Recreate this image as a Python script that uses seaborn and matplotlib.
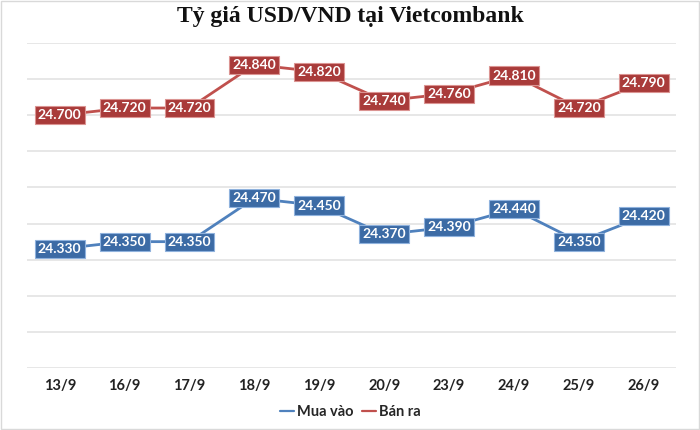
import matplotlib
matplotlib.use("Agg")
import matplotlib.pyplot as plt
import seaborn as sns
import pandas as pd

# ── data ──────────────────────────────────────────────────────────────────────
dates = ["13/9", "16/9", "17/9", "18/9", "19/9", "20/9", "23/9", "24/9", "25/9", "26/9"]
mua_vao = [24330, 24350, 24350, 24470, 24450, 24370, 24390, 24440, 24350, 24420]
ban_ra = [24700, 24720, 24720, 24840, 24820, 24740, 24760, 24810, 24720, 24790]
series_names = ["Mua vào", "Bán ra"]

line_colors = {"Mua vào": "#4F81BD", "Bán ra": "#C0504D"}
box_colors = {"Mua vào": "#3C6BA5", "Bán ra": "#A93B3A"}
box_edges = {"Mua vào": "#8FB2DD", "Bán ra": "#DB9492"}

df = pd.DataFrame({
    "pos": list(range(len(dates))) * 2,
    "date": dates * 2,
    "value": mua_vao + ban_ra,
    "series": [series_names[0]] * len(dates) + [series_names[1]] * len(dates),
})

sns.set_theme(style="white")
plt.rcParams["font.family"] = ["Lato", "DejaVu Sans"]

fig, ax = plt.subplots(figsize=(7, 4.3), dpi=100)
fig.subplots_adjust(left=0.039, right=0.966, top=0.9, bottom=0.144)

sns.lineplot(data=df, x="pos", y="value", hue="series", hue_order=series_names,
             palette=line_colors, linewidth=2, ax=ax, legend=False, zorder=2)

# value labels centred on each point
for name, vals in zip(series_names, [mua_vao, ban_ra]):
    for i, v in enumerate(vals):
        txt = f"{v:,}".replace(",", ".")
        ax.text(i, v, txt, ha="center", va="center", color="white",
                fontsize=10, fontweight="bold", zorder=3,
                bbox=dict(boxstyle="square,pad=0.22", facecolor=box_colors[name],
                          edgecolor=box_edges[name], linewidth=0.8))

ax.set_ylim(24000, 24900)
ax.set_yticks(range(24000, 24901, 100))
ax.set_yticklabels([])
ax.tick_params(axis="y", length=0)
ax.set_xlim(-0.5, len(dates) - 0.5)
ax.set_xticks(range(len(dates)))
ax.set_xticklabels(dates, fontsize=10.5, fontweight="bold", color="#222222")
ax.tick_params(axis="x", length=0, pad=8)
ax.grid(axis="y", color="#E3E3E3", linewidth=1.2)
ax.set_axisbelow(True)
for s in ax.spines.values():
    s.set_visible(False)
ax.set_xlabel("")
ax.set_ylabel("")

fig.suptitle("Tỷ giá USD/VND tại Vietcombank", y=0.985, fontsize=17,
             fontweight="bold", family=["Liberation Serif", "DejaVu Serif"], color="#111111")

handles = [plt.Line2D([], [], color=line_colors[n], linewidth=1.6) for n in series_names]
fig.legend(handles, series_names, loc="center", bbox_to_anchor=(0.5, 0.042), ncol=2,
           frameon=False, handlelength=1.0, handletextpad=0.15, columnspacing=0.6,
           prop={"weight": "bold", "size": 10.5})

# thin border round the whole picture
fig.patches.append(plt.Rectangle((0.002, 0.002), 0.996, 0.996, transform=fig.transFigure,
                                 fill=False, edgecolor="#D9D9D9", linewidth=1))

fig.savefig("out.png", dpi=100)
